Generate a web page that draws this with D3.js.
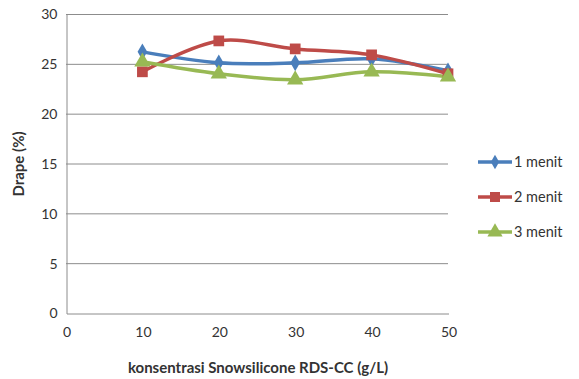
<!doctype html>
<html>
  <head>
    <script src="https://cdnjs.cloudflare.com/ajax/libs/d3/7.8.5/d3.min.js"></script>
    <style>
      body { margin: 0; background: #fff; }
      text { font-family: Lato, "Open Sans", sans-serif; fill: #333; }
    </style>
  </head>
  <body>
    <svg width="579" height="379"></svg>
    <script>
        var konsentrasi = [10, 20, 30, 40, 50];
        var menit1 = [26.2, 25.1, 25.1, 25.5, 24.3];
        var menit2 = [24.2, 27.3, 26.5, 25.9, 24.0];
        var menit3 = [25.2, 24.0, 23.4, 24.2, 23.7];
        var seriesNames = ["1 menit", "2 menit", "3 menit"];
        var yTicks = [0, 5, 10, 15, 20, 25, 30];
        var xTicks = [0, 10, 20, 30, 40, 50];

        var series = [
            {name: seriesNames[0], values: menit1, color: "#4a7ebb", symbol: d3.symbolDiamond},
            {name: seriesNames[1], values: menit2, color: "#be4b48", symbol: d3.symbolSquare},
            {name: seriesNames[2], values: menit3, color: "#98b954", symbol: d3.symbolTriangle}
        ];

        var svg = d3.select("svg");
        var xScale = d3.scaleLinear().domain([0, 50]).range([66, 448]);
        var yScale = d3.scaleLinear().domain([0, 30]).range([313, 14]);

        // gridlines
        svg.append("g").selectAll("line").data(yTicks.slice(1)).join("line")
            .attr("x1", 66).attr("x2", 448)
            .attr("y1", d => yScale(d) + 0.5).attr("y2", d => yScale(d) + 0.5)
            .style("stroke", "#8c8c8c").style("stroke-width", 1);

        var yAxis = d3.axisLeft(yScale).tickValues(yTicks).tickSize(0).tickPadding(9);
        var yG = svg.append("g").attr("transform", "translate(66.5,0.5)").call(yAxis);
        yG.select(".domain").style("stroke", "#8c8c8c");
        yG.selectAll("text").style("font-size", "14px").style("font-family", "Lato, sans-serif").attr("fill", "#333");

        var xAxis = d3.axisBottom(xScale).tickValues(xTicks).tickSize(0).tickPadding(14);
        var xG = svg.append("g").attr("transform", "translate(0.5,313.5)").call(xAxis);
        xG.select(".domain").style("stroke", "#8c8c8c");
        xG.selectAll("text").style("font-size", "14px").style("font-family", "Lato, sans-serif").attr("fill", "#333");

        var line = d3.line()
            .x((d, i) => xScale(konsentrasi[i]))
            .y(d => yScale(d))
            .curve(d3.curveCatmullRom.alpha(0.5));

        series.forEach(function(s) {
            svg.append("path")
                .attr("d", line(s.values))
                .style("fill", "none")
                .style("stroke", s.color)
                .style("stroke-width", 3.5)
                .style("stroke-linejoin", "round");
        });

        series.forEach(function(s) {
            svg.append("g").selectAll("path").data(s.values).join("path")
                .attr("transform", (d, i) => "translate(" + xScale(konsentrasi[i]) + "," + yScale(d) + ")")
                .attr("d", d3.symbol().type(s.symbol).size(s.symbol === d3.symbolDiamond ? 80 : 115))
                .style("fill", s.color);
        });

        // legend
        var legend = svg.append("g").selectAll("g").data(series).join("g")
            .attr("transform", (d, i) => "translate(478," + (162 + i * 35) + ")");
        legend.append("line").attr("x1", 0).attr("x2", 34).attr("y1", 0).attr("y2", 0)
            .style("stroke", d => d.color).style("stroke-width", 3.5);
        legend.append("path")
            .attr("transform", "translate(17,0)")
            .attr("d", d => d3.symbol().type(d.symbol).size(d.symbol === d3.symbolDiamond ? 60 : 100)())
            .style("fill", d => d.color);
        legend.append("text").attr("x", 36).attr("y", 5)
            .style("font-size", "14.5px")
            .text(d => d.name);

        // axis titles
        svg.append("text")
            .attr("transform", "translate(24,164) rotate(-90)")
            .attr("text-anchor", "middle")
            .style("font-size", "15px").style("font-weight", "bold")
            .text("Drape (%)");
        svg.append("text")
            .attr("x", 258).attr("y", 373)
            .attr("text-anchor", "middle")
            .style("font-size", "15px").style("font-weight", "bold")
            .text("konsentrasi Snowsilicone  RDS-CC (g/L)");
    </script>
  </body>
</html>
